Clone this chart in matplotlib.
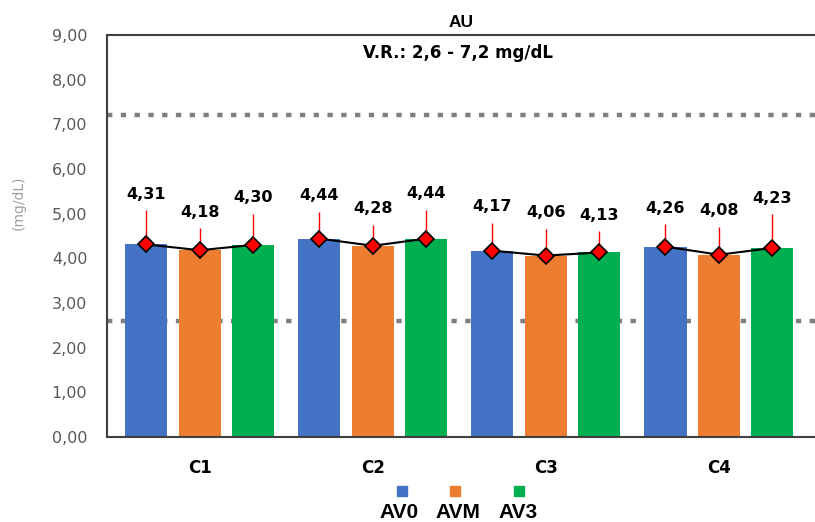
import numpy as np
import matplotlib.pyplot as plt
from matplotlib.patches import Rectangle

# Ácido úrico (AU) por ciclo y momento
ciclos = ["C1", "C2", "C3", "C4"]
series = ["AV0", "AVM", "AV3"]
av0 = [4.31, 4.44, 4.17, 4.26]
avm = [4.18, 4.28, 4.06, 4.08]
av3 = [4.30, 4.44, 4.13, 4.23]
# desviación (solo hacia arriba)
err_av0 = [0.76, 0.60, 0.63, 0.51]
err_avm = [0.50, 0.47, 0.60, 0.63]
err_av3 = [0.70, 0.65, 0.47, 0.76]
vr_min, vr_max = 2.6, 7.2

colores = ["#4472C4", "#ED7D31", "#00B050"]
valores = [av0, avm, av3]
errores = [err_av0, err_avm, err_av3]

fig = plt.figure(figsize=(8.15, 5.22), dpi=100)
ax = fig.add_axes([0.131, 0.163, 0.869, 0.770])

x = np.arange(len(ciclos))
paso = 0.309
ancho = 0.243
for i, (vals, errs, col) in enumerate(zip(valores, errores, colores)):
    pos = x + (i - 1) * paso
    ax.bar(pos, vals, width=ancho, color=col, zorder=2)
    ax.errorbar(pos, vals, yerr=[np.zeros(len(errs)), errs], fmt="none",
                ecolor="red", elinewidth=1, capsize=0, zorder=3)
    for p, v, e in zip(pos, vals, errs):
        ax.annotate(f"{v:.2f}".replace(".", ","), (p, v + e), xytext=(0, 6),
                    textcoords="offset points", ha="center", va="bottom",
                    fontsize=11.5, fontweight="bold")

# línea de medias dentro de cada ciclo
for j in range(len(ciclos)):
    pos = x[j] + (np.arange(3) - 1) * paso
    ys = [v[j] for v in valores]
    ax.plot(pos, ys, color="black", lw=1.5, zorder=4)
    ax.plot(pos, ys, ls="none", marker="D", ms=8.5, mfc="red", mec="black",
            mew=1.2, zorder=5)

# valores de referencia
for yv in (vr_min, vr_max):
    ax.axhline(yv, color="#7f7f7f", lw=3.2, ls=(0, (1.2, 1.9)), zorder=1)

ax.set_xlim(-0.538, 3.555)
ax.set_ylim(0, 9)
ax.set_yticks(range(10))
ax.set_yticklabels([f"{t},00" for t in range(10)], color="#595959",
                   fontsize=11.5)
ax.set_xticks(x)
ax.set_xticklabels(ciclos, fontsize=12, fontweight="bold")
ax.tick_params(length=0, axis="y", pad=14)
ax.tick_params(length=0, axis="x", pad=16)
for s in ("left", "bottom", "top"):
    ax.spines[s].set_color("#404040")
    ax.spines[s].set_linewidth(1.5)
ax.spines["right"].set_visible(False)

ax.set_title("AU", fontsize=12.5, fontweight="bold", family="Liberation Sans",
             pad=6)
fig.text(458 / 815, 1 - 53 / 522, "V.R.: 2,6 - 7,2 mg/dL", ha="center",
         va="center", fontsize=12, fontweight="bold")
fig.text(19 / 815, 1 - 203 / 522, "(mg/dL)", rotation=90, ha="center",
         va="center", color="#a0a0a0", fontsize=10)

# leyenda: cuadro encima de cada etiqueta
ley_txt = [399, 458, 518]
ley_cuadro = [402, 455, 519]
for nombre, col, tx, cx in zip(series, colores, ley_txt, ley_cuadro):
    fig.patches.append(Rectangle(((cx - 5) / 815, 1 - 496 / 522), 10 / 815,
                                 10 / 522, transform=fig.transFigure,
                                 color=col))
    fig.text(tx / 815, 1 - 512 / 522, nombre, ha="center", va="center",
             fontsize=15, fontweight="bold", family="Liberation Sans")

fig.savefig("out.png", dpi=100)
